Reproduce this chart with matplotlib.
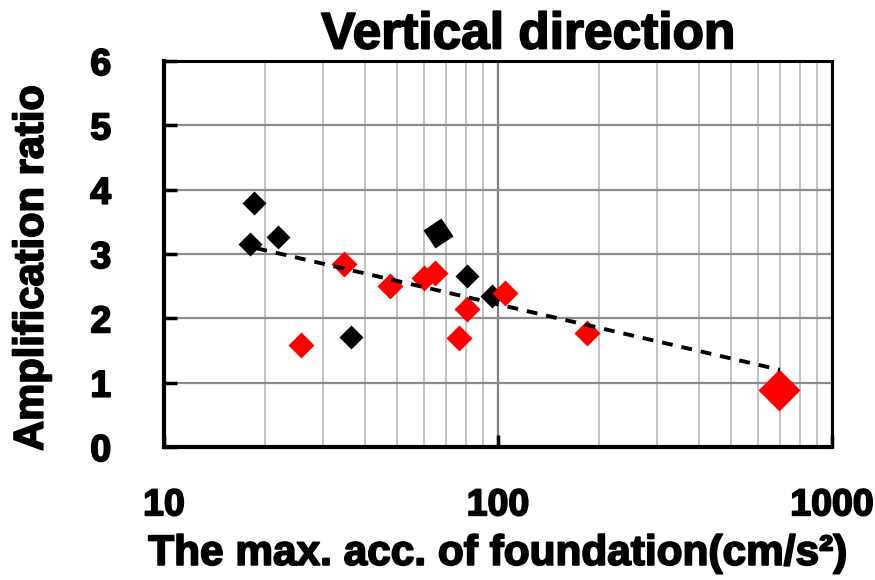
import matplotlib
matplotlib.use('Agg')
import matplotlib.pyplot as plt
import matplotlib.patheffects as pe
from matplotlib.markers import MarkerStyle
from matplotlib.transforms import Affine2D
from matplotlib.ticker import LogLocator, NullFormatter, FixedLocator


# black points: max. acc. of foundation (cm/s2) vs amplification ratio
black_acc = [18.6, 18.1, 22.0, 36.3, 80.5, 95.7]
black_ratio = [3.80, 3.15, 3.27, 1.71, 2.66, 2.34]

# the larger, tilted black point
black_big_acc = [66.1]
black_big_ratio = [3.33]

# red points
red_acc = [25.7, 34.7, 47.5, 60.1, 64.7, 80.5, 76.4, 104.9, 184.6]
red_ratio = [1.59, 2.84, 2.50, 2.63, 2.71, 2.14, 1.69, 2.39, 1.77]

# the larger red point
red_big_acc = [695]
red_big_ratio = [0.89]

# trend line (straight on semi-log axes)
trend_acc = [18.9, 698]
trend_ratio = [3.09, 1.20]

xticks = [10, 100, 1000]
yticks = [0, 1, 2, 3, 4, 5, 6]

plt.rcParams['font.family'] = ['Liberation Sans', 'DejaVu Sans']
plt.rcParams['font.weight'] = 'bold'

# thicken the bold text a little
heavy = [pe.withStroke(linewidth=1.3, foreground='black')]


def main():
    fig = plt.figure(figsize=(8.75, 5.8), dpi=100)
    ax = fig.add_axes([0.1874, 0.2293, 0.7635, 0.6655])

    ax.set_xscale('log')
    ax.set_xlim(10, 1000)
    ax.set_ylim(0, 6)

    # grid
    ax.xaxis.set_minor_locator(LogLocator(base=10, subs=range(2, 10)))
    ax.xaxis.set_minor_formatter(NullFormatter())
    ax.grid(True, which='minor', axis='x', color='#bdbdbd', linewidth=1.3)
    ax.grid(True, which='major', axis='x', color='#808080', linewidth=1.6)
    ax.grid(True, which='major', axis='y', color='#8c8c8c', linewidth=1.6)
    ax.set_axisbelow(True)

    # data
    ax.plot(black_acc, black_ratio, 'D', color='black', ms=12.5,
            mec='none', zorder=3)
    tilted = MarkerStyle('D', transform=Affine2D().rotate_deg(-12))
    ax.plot(black_big_acc, black_big_ratio, linestyle='none', marker=tilted,
            color='black', ms=16, mec='none', zorder=3)
    ax.plot(red_acc, red_ratio, 'D', color='#ff0000', ms=13,
            mec='none', zorder=4)
    ax.plot(red_big_acc, red_big_ratio, 'D', color='#ff0000', ms=21,
            mec='none', zorder=4)
    ax.plot(trend_acc, trend_ratio, color='black', linewidth=2.8,
            dashes=(2.8, 2.3), zorder=5)

    # ticks
    ax.xaxis.set_major_locator(FixedLocator(xticks))
    ax.set_xticklabels([str(t) for t in xticks])
    ax.set_yticks(yticks)
    ax.tick_params(axis='x', which='major', direction='in', length=9,
                   width=2.5, pad=29, labelsize=27)
    ax.tick_params(axis='x', which='minor', length=0)
    ax.tick_params(axis='y', direction='in', length=9, width=2.5,
                   pad=38, labelsize=27)
    for lab in ax.get_xticklabels() + ax.get_yticklabels():
        lab.set_fontweight('bold')
        lab.set_path_effects(heavy)

    for side in ['left', 'bottom']:
        ax.spines[side].set_linewidth(3)
    for side in ['top', 'right']:
        ax.spines[side].set_linewidth(2.2)

    ax.set_title('Vertical direction', fontsize=37, fontweight='bold',
                 x=0.545, pad=9, path_effects=heavy)
    ax.set_xlabel('The max. acc. of foundation(cm/s²)',
                  fontsize=30.5, fontweight='bold', path_effects=heavy)
    ax.set_ylabel('Amplification ratio', fontsize=30, fontweight='bold',
                  path_effects=heavy)
    ax.xaxis.set_label_coords(0.5, -0.225)
    ax.yaxis.set_label_coords(-0.168, 0.464)

    fig.savefig('out.png', dpi=100)


if __name__ == '__main__':
    main()
